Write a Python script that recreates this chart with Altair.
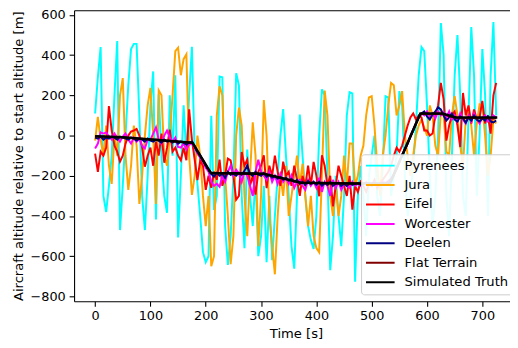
import altair as alt
import pandas as pd

names = ["Pyrenees", "Jura", "Eifel", "Worcester", "Deelen", "Flat Terrain", "Simulated Truth"]
colors = ["#00ffff", "#ffa500", "#ff0000", "#ff00ff", "#000080", "#800000", "#000000"]

time_s = list(range(0, 730, 5))

pyrenees = [
    110, 290, 440, -300, -380, -250, -100, 200, 470, -470,
    -250, 0, 250, 430, 456, 456, 100, -300, -470, -200,
    150, 319, -417, 205, -100, -300, -384, 200, -100, 300,
    -507, -200, 150, -100, 200, 441, -100, -240, -400, -580,
    -630, -600, 98, -370, -300, 294, 290, -450, -643, -500,
    -200, 310, 250, -300, -560, -70, -300, -450, -200, -600,
    -500, -250, -630, -300, -620, -400, -200, 0, 132, -100,
    -300, -550, -662, -300, 104, -100, -300, -450, -520, -564,
    -400, 0, 230, 200, -200, -670, -500, -200, -400, -550,
    -300, 100, 216, 210, -727, -300, -150, -300, -500, -200,
    -100, 0, -300, -400, -150, 196, 190, -300, -200, -100,
    221, 150, -200, -400, -300, -150, 50, 300, 440, 420,
    150, -200, -450, -300, 0, 560, 400, -300, -500, -100,
    300, 500, 200, -300, -400, 100, 540, 300, -300, 0,
    430, 200, -400, 300, 565, 100,
]

jura = [
    -25, 93, -20, -100, 50, -150, -240, 0, -100, 200,
    286, -100, -270, -150, 50, -50, -340, -200, 0, 150,
    237, 0, -340, 225, 200, -100, -150, 0, 200, 420,
    437, 300, 380, 404, -100, -295, -200, 0, -100, -300,
    -450, -300, -650, -600, 100, 245, 200, -200, -400, -640,
    -500, 0, 139, 50, -300, -500, -200, 66, -100, -550,
    -300, 177, 0, -400, -550, -690, -400, -200, -300, -150,
    -400, -300, -200, -100, -250, -140, -300, -450, -300, -500,
    -560, -580, -200, 224, 100, -300, -400, -250, -400, -300,
    -100, -250, -40, -40, -250, -200, -100, -50, 100, 190,
    196, 50, -150, -300, -100, 0, 150, 262, 250, 100,
    150, 221, 0, -100, -200, -100, 0, 50, 80, 40,
    0, 150, 100, -50, -100, 120, 100, -80, -100, 100,
    196, 100, -50, -150, 80, 120, 50, -100, 60, 155,
    150, 0, -200, -100, 80, 60,
]

eifel = [
    -90, -180, -80, -100, -60, 147, 25, -50, -80, -130,
    -100, -40, 0, 20, 25, 33, 0, -60, -155, -100,
    -60, -150, -30, -100, 10, -135, -60, 30, -80, -60,
    -100, -123, -60, -123, 131, -20, -120, -221, -123, -150,
    -270, -200, -260, -180, -220, -120, -250, -200, -115, -123,
    -200, -319, -300, -82, -150, -120, -250, -200, -294, -180,
    -150, -98, -262, -150, -200, -100, -180, -250, -130, -200,
    -180, -250, -150, -220, -300, -200, -250, -150, -250, -131,
    -200, -302, -98, -150, -250, -200, -352, -250, -150, -200,
    -250, -300, -200, -368, -250, -280, -230, -250, -280, -240,
    -250, -220, -260, -240, -220, -200, -180, -150, -100, -60,
    -80, -50, 0, 50, 90, 110, 80, 100, 90, 25,
    25, 0, 10, 100, 150, 262, 180, -25, 50, 100,
    120, 50, -57, 212, 100, 150, 60, 130, 80, 90,
    172, 60, 100, 10, 200, 262,
]

worcester = [
    -64, -40, 16, 10, 15, -5, -20, 10, -10, -30,
    -5, 10, -20, -40, -10, -30, -15, -50, -64, -20,
    -20, 10, 41, -20, -40, 0, 25, -10, -30, -10,
    -57, -60, -40, -70, -45, -40, -60, -90, -110, -130,
    -160, -180, -230, -250, -240, -255, -200, -230, -180, -150,
    -200, -170, -190, -230, -180, -200, -250, -300, -180, -120,
    -180, -200, -220, -180, -230, -200, -240, -190, -230, -210,
    -240, -200, -260, -230, -220, -250, -270, -220, -250, -230,
    -260, -210, -280, -230, -250, -300, -220, -260, -230, -270,
    -240, -250, -260, -230, -250, -240, -250, -240, -230, -250,
    -240, -230, -250, -240, -230, -235, -225, -215, -190, -160,
    -130, -95, -70, -40, 0, 30, 60, 95, 110, 100,
    120, 95, 110, 85, 120, 100, 115, 90, 120, 80,
    100, 70, 110, 80, 60, 100, 70, 110, 80, 60,
    90, 100, 70, 80, 100, 90,
]

deelen = [
    -10, -15, -5, -20, -10, -15, -5, -10, -20, -5,
    -10, -15, -20, -10, -15, -25, -15, -20, -30, -15,
    -25, -30, -20, -25, -35, -20, -30, -25, -35, -25,
    -40, -30, -35, -45, -35, -30, -55, -80, -100, -125,
    -150, -170, -190, -205, -185, -200, -190, -210, -180, -195,
    -190, -200, -185, -195, -175, -150, -190, -200, -180, -195,
    -200, -185, -205, -195, -210, -200, -215, -205, -220, -210,
    -225, -215, -230, -220, -240, -230, -245, -225, -240, -230,
    -245, -230, -250, -235, -245, -230, -250, -240, -235, -250,
    -240, -250, -235, -245, -240, -235, -245, -240, -235, -240,
    -240, -235, -245, -240, -235, -240, -230, -215, -195, -165,
    -130, -100, -70, -40, -5, 25, 60, 90, 110, 120,
    95, 80, 105, 120, 140, 130, 100, 75, 90, 110,
    80, 70, 95, 85, 65, 90, 75, 100, 80, 70,
    85, 75, 95, 70, 65, 75,
]

flat_terrain = [
    -5, -3, -6, -4, -7, -5, -8, -6, -9, -7,
    -8, -10, -12, -11, -14, -13, -15, -16, -18, -17,
    -19, -20, -22, -21, -24, -25, -26, -27, -29, -28,
    -30, -31, -33, -32, -35, -34, -52, -78, -100, -122,
    -146, -168, -186, -185, -188, -186, -187, -189, -186, -188,
    -187, -189, -188, -190, -187, -189, -191, -188, -190, -189,
    -190, -191, -193, -197, -200, -203, -206, -210, -213, -216,
    -220, -223, -227, -230, -233, -236, -236, -235, -237, -236,
    -236, -237, -235, -237, -236, -238, -237, -236, -238, -237,
    -238, -237, -238, -236, -238, -237, -238, -239, -237, -238,
    -238, -237, -239, -238, -237, -238, -238, -226, -194, -163,
    -131, -99, -68, -36, -5, 27, 59, 90, 108, 107,
    108, 106, 109, 107, 108, 106, 107, 102, 96, 92,
    90, 88, 89, 87, 88, 86, 88, 87, 85, 87,
    86, 88, 86, 87, 85, 86,
]

truth_t = [0, 50, 176, 209, 305, 372, 470, 533, 588, 628, 652, 727]
truth_v = [-3, -8, -36, -186, -190, -235, -238, -238, 110, 110, 90, 90]

rows = []
for name, vals in zip(names[:6], [pyrenees, jura, eifel, worcester, deelen, flat_terrain]):
    for t, v in zip(time_s, vals):
        rows.append({"t": t, "v": v, "series": name})
for t, v in zip(truth_t, truth_v):
    rows.append({"t": t, "v": v, "series": names[6]})
df = pd.DataFrame(rows)

FONT = "DejaVu Sans"
xscale = alt.Scale(domain=[-38, 750], nice=False, zero=False)
yscale = alt.Scale(domain=[-824, 623], nice=False, zero=False)
cscale = alt.Scale(domain=names, range=colors)

legend = alt.Legend(
    orient="none", legendX=291, legendY=146, title=None,
    fillColor="rgba(255,255,255,0.9)", strokeColor="#cccccc", cornerRadius=3,
    padding=4, labelFont=FONT, labelFontSize=13.3, labelColor="black",
    symbolType="M-1,0H1", symbolSize=841, symbolStrokeWidth=2,
    clipHeight=15, rowPadding=4.7, labelOffset=9, symbolOffset=0,
)

bottom_axis = alt.Axis(
    values=[0, 100, 200, 300, 400, 500, 600, 700], title="Time [s]",
    titleX=225, titlePadding=4, grid=False,
)
top_axis = alt.Axis(orient="top", labels=False, ticks=False, title=None, grid=False)
left_axis = alt.Axis(
    values=[-800, -600, -400, -200, 0, 200, 400, 600],
    title="Aircraft altitude relative to start altitude [m]",
    titleX=-56, titleY=147.5, titleAngle=270, titleAlign="center",
    titleBaseline="middle", grid=False,
)

layers = []
for i, name in enumerate(names):
    if i == 0:
        xa, ya = bottom_axis, left_axis
    elif i == 6:
        xa, ya = top_axis, None
    else:
        xa, ya = None, None
    layer = alt.Chart(df).transform_filter(alt.datum.series == name).mark_line(
        strokeWidth=2.6 if i == 6 else 2, clip=True
    ).encode(
        x=alt.X("t:Q", scale=xscale, axis=xa),
        y=alt.Y("v:Q", scale=yscale, axis=ya),
        color=alt.Color("series:N", scale=cscale, legend=legend),
    )
    layers.append(layer)

chart = alt.layer(*layers).resolve_axis(x="independent", y="independent").properties(
    width=442, height=295,
    autosize=alt.AutoSizeParams(type="none"),
    padding={"left": 67, "top": 0, "right": 0, "bottom": 40},
).configure_view(stroke=None).configure_axis(
    domainColor="black", domainWidth=1.1, tickColor="black", tickWidth=1.1,
    tickSize=5, labelPadding=4, labelFont=FONT, labelFontSize=13, labelColor="black",
    titleFont=FONT, titleFontSize=13.3, titleFontWeight="normal", titleColor="black",
)

chart.save("out.html", embed_options={"renderer": "svg", "actions": False})
